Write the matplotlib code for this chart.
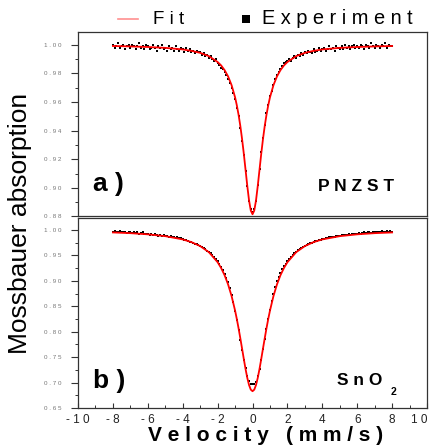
import numpy as np
import matplotlib
matplotlib.use('Agg')
import matplotlib.pyplot as plt
from matplotlib.lines import Line2D
from matplotlib.ticker import MultipleLocator, FuncFormatter

plt.rcParams['font.family'] = ['Liberation Sans', 'DejaVu Sans']

# channel velocities (mm/s)
velocity = np.round(np.linspace(-8, 8, 161), 1)

# a) PNZST measured spectrum
pnzst_exp = [
    1.000, .998, .999, 1.001, .998, .999, 1.000, .997, .999, 1.000,
    .998, 1.000, .999, .997, .999, 1.001, .998, .999, .997, 1.000,
    .999, .997, .998, 1.000, .998, .996, .999, .998, 1.000, .997,
    .998, .996, .999, .997, .998, .996, .999, .997, .996, .998,
    .997, .995, .998, .996, .997, .995, .996, .994, .996, .995,
    .995, .993, .994, .992, .993, .991, .992, .990, .989, .990,
    .987, .986, .984, .983, .981, .979, .976, .973, .970, .966,
    .962, .956, .950, .942, .933, .923, .912, .901, .891, .885,
    .883,
    .885, .891, .902, .913, .925, .935, .944, .952, .958, .964,
    .968, .972, .976, .979, .981, .983, .985, .987, .988, .989,
    .990, .989, .991, .992, .991, .993, .992, .994, .993, .995,
    .994, .996, .995, .994, .997, .995, .996, .998, .996, .997,
    .998, .996, .997, .999, .997, .998, .996, .999, .998, .997,
    .999, .997, 1.000, .998, .999, .997, .999, 1.000, .998, .999,
    .998, 1.000, .999, .997, 1.000, .999, .998, 1.001, .999, .998,
    1.000, .999, .998, 1.000, .999, 1.001, .998, 1.000, .999, .999,
]

# b) SnO2 reference spectrum
sno2_exp = [
    .996, .997, .995, .996, .997, .995, .996, .996, .994, .996,
    .995, .994, .996, .994, .995, .993, .994, .995, .993, .992,
    .993, .991, .992, .990, .992, .990, .989, .991, .989, .990,
    .988, .989, .987, .988, .986, .987, .985, .986, .984, .985,
    .982, .980, .980, .978, .977, .976, .975, .973, .972, .970,
    .968, .967, .964, .962, .959, .957, .954, .950, .946, .942,
    .938, .933, .927, .921, .914, .906, .897, .886, .873, .858,
    .841, .823, .804, .784, .764, .745, .728, .713, .703, .698,
    .697,
    .698, .702, .712, .727, .745, .765, .786, .806, .825, .843,
    .860, .875, .888, .899, .908, .916, .923, .929, .934, .939,
    .943, .947, .951, .954, .957, .960, .962, .965, .967, .969,
    .970, .972, .974, .975, .976, .978, .979, .980, .981, .982,
    .983, .984, .984, .986, .986, .987, .987, .988, .989, .989,
    .990, .990, .991, .991, .992, .991, .992, .993, .993, .993,
    .994, .993, .994, .995, .994, .995, .995, .994, .996, .995,
    .996, .995, .996, .997, .996, .996, .997, .996, .997, .996,
]

fit_velocity = [-8, -7, -6, -5, -4, -3.5, -3, -2.5, -2, -1.8, -1.6, -1.4, -1.2,
                -1.0, -0.9, -0.8, -0.7, -0.6, -0.5, -0.4, -0.3, -0.2, -0.1, 0,
                0.1, 0.2, 0.3, 0.4, 0.5, 0.6, 0.7, 0.8, 0.9, 1.0,
                1.2, 1.4, 1.6, 1.8, 2, 2.5, 3, 3.5, 4, 5, 6, 7, 8]

pnzst_fit = [.9992, .9989, .9985, .9979, .9968, .9958, .9944, .9921, .9880, .9856,
             .9823, .9779, .9718, .9633, .9577, .9511, .9433, .9342, .9239, .9126,
             .9013, .8912, .8841, .8815, .8841, .8912, .9013, .9126, .9239, .9342,
             .9433, .9511, .9577, .9633, .9718, .9779, .9823, .9856, .9880, .9921,
             .9944, .9958, .9968, .9979, .9985, .9989, .9992]

sno2_fit = [.9951, .9937, .9914, .9878, .9814, .9761, .9683, .9563, .9366, .9252,
            .9110, .8929, .8701, .8415, .8249, .8067, .7872, .7669, .7464, .7267,
            .7092, .6952, .6861, .6830, .6861, .6952, .7092, .7267, .7464, .7669,
            .7872, .8067, .8249, .8415, .8701, .8929, .9110, .9252, .9366, .9563,
            .9683, .9761, .9814, .9878, .9914, .9937, .9951]

x_ticks = [-10, -8, -6, -4, -2, 0, 2, 4, 6, 8, 10]


def spaced(s):
    return ' '.join(s)


fig = plt.figure(figsize=(4.32, 4.48), dpi=100)
ax1 = fig.add_axes([0.1806, 0.5170, 0.8079, 0.4116])
ax2 = fig.add_axes([0.1806, 0.0893, 0.8079, 0.4241])

for ax in (ax1, ax2):
    ax.plot(velocity, pnzst_exp if ax is ax1 else sno2_exp, 's', color='black',
            markersize=2.0, markeredgewidth=0)
    ax.plot(fit_velocity, pnzst_fit if ax is ax1 else sno2_fit, '-', color='#ff0000',
            linewidth=1.3)
    ax.set_xlim(-10, 10)
    for sp in ax.spines.values():
        sp.set_color('#333333')
        sp.set_linewidth(0.9)
    ax.tick_params(axis='y', which='major', direction='out', length=5, width=0.8,
                   pad=7, labelsize=4.5, labelcolor='#777777', color='#333333')
    ax.tick_params(axis='y', which='minor', direction='out', length=2.5, width=0.7,
                   color='#333333')
    ax.yaxis.set_major_formatter(FuncFormatter(lambda v, p: spaced(f'{v:.2f}')))

ax1.set_ylim(0.88, 1.009)
ax1.yaxis.set_major_locator(MultipleLocator(0.02))
ax1.yaxis.set_minor_locator(MultipleLocator(0.01))
ax1.tick_params(axis='x', which='both', bottom=False, labelbottom=False)

ax2.set_ylim(0.65, 1.0235)
ax2.yaxis.set_major_locator(MultipleLocator(0.05))
ax2.yaxis.set_minor_locator(MultipleLocator(0.025))
ax2.set_xticks(x_ticks, [spaced(str(t)) for t in x_ticks])
ax2.xaxis.set_minor_locator(MultipleLocator(1))
ax2.tick_params(axis='x', which='major', direction='in', length=3.5, width=0.8,
                pad=4, labelsize=8.5, labelcolor='#222222', color='#333333')
ax2.tick_params(axis='x', which='minor', direction='in', length=2, width=0.7,
                color='#333333')
ax2.get_xticklabels()[-1].set_horizontalalignment('right')

ax1.text(0.043, 0.175, 'a )', transform=ax1.transAxes, fontsize=19,
         fontweight='bold', va='center')
ax1.text(0.905, 0.162, 'P N Z S T', transform=ax1.transAxes, fontsize=12.5,
         fontweight='bold', ha='right', va='center')
ax2.text(0.043, 0.14, 'b )', transform=ax2.transAxes, fontsize=19,
         fontweight='bold', va='center')
ax2.text(0.871, 0.147, 'S n O', transform=ax2.transAxes, fontsize=12.5,
         fontweight='bold', ha='right', va='center')
ax2.text(0.903, 0.084, '2', transform=ax2.transAxes, fontsize=7.5,
         fontweight='bold', ha='center', va='center')

# legend above the plots
ly = 1 - 19 / 448
fig.add_artist(Line2D([118 / 432, 138 / 432], [ly, ly], color='#ff9090', linewidth=1.2))
fig.text(153 / 432, ly, 'F i t', fontsize=13.5, va='center', ha='left')
fig.add_artist(Line2D([246 / 432], [ly], marker='s', color='black', markersize=5.5,
                      markeredgewidth=0))
fig.text(262 / 432, ly, 'E x p e r i m e n t', fontsize=14.4, va='center', ha='left')

fig.text(0.046, 0.502, 'Mossbauer absorption', rotation=90, fontsize=19,
         va='center', ha='center')
fig.text(0.615, 0.027, 'V e l o c i t y   ( m m / s )', fontsize=15,
         fontweight='bold', va='center', ha='center')

fig.savefig('out.png', dpi=100)
